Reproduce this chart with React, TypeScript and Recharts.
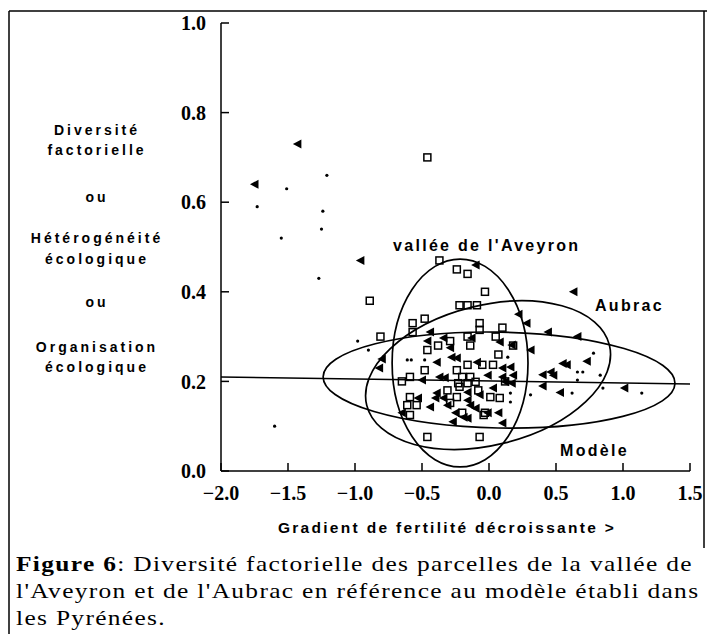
import React from 'react';
import {
  ScatterChart, Scatter, XAxis, YAxis,
  ReferenceArea, ReferenceLine,
} from 'recharts';

// vallée de l'Aveyron (open squares)
const aveyronPts: [number, number][] = [
  [-0.46, 0.70], [-0.89, 0.38], [-0.37, 0.47], [-0.24, 0.45], [-0.16, 0.44],
  [-0.03, 0.40], [-0.22, 0.37], [-0.16, 0.37], [-0.09, 0.37], [-0.57, 0.33],
  [-0.48, 0.34], [-0.07, 0.33], [-0.07, 0.315], [0.10, 0.32], [-0.81, 0.30],
  [-0.57, 0.31], [-0.29, 0.29], [-0.38, 0.28], [-0.16, 0.30], [-0.14, 0.28],
  [0.05, 0.30], [0.18, 0.28], [0.07, 0.26], [-0.46, 0.27], [-0.48, 0.225],
  [-0.59, 0.21], [-0.65, 0.20], [-0.24, 0.225], [-0.16, 0.237], [-0.05, 0.237],
  [0.03, 0.237], [-0.20, 0.21], [-0.14, 0.21], [-0.23, 0.196], [-0.16, 0.196],
  [-0.08, 0.18], [0.01, 0.165], [-0.59, 0.165], [-0.61, 0.147], [-0.54, 0.147],
  [-0.59, 0.125], [-0.29, 0.152], [-0.20, 0.13], [-0.03, 0.13], [-0.46, 0.076],
  [-0.07, 0.076], [-0.22, 0.188], [-0.24, 0.165], [-0.10, 0.199], [-0.04, 0.125],
  [-0.31, 0.18], [0.12, 0.20], [0.08, 0.163],
];

// Aubrac (filled triangles)
const aubracPts: [number, number][] = [
  [-1.43, 0.73], [-1.75, 0.64], [-0.96, 0.47], [-0.10, 0.46], [0.63, 0.40],
  [0.22, 0.35], [0.28, 0.33], [0.44, 0.31], [0.66, 0.30], [0.31, 0.27],
  [-0.44, 0.31], [-0.46, 0.29], [-0.29, 0.275], [0.08, 0.288], [-0.13, 0.297],
  [0.73, 0.245], [0.55, 0.24], [0.40, 0.215], [0.40, 0.19], [0.53, 0.175],
  [1.01, 0.185], [-0.80, 0.25], [-0.82, 0.23], [-0.37, 0.21], [0.10, 0.21],
  [-0.39, 0.174], [-0.44, 0.143], [-0.65, 0.13], [-0.31, 0.147], [0.10, 0.107],
  [-0.01, 0.13], [-0.27, 0.11], [-0.50, 0.203], [-0.33, 0.208], [-0.34, 0.163],
  [-0.16, 0.176], [-0.14, 0.147], [-0.16, 0.118], [-0.24, 0.252], [0.16, 0.232],
  [0.18, 0.214], [0.12, 0.199], [0.46, 0.221], [0.58, 0.237], [0.48, 0.214],
  [0.07, 0.13], [-0.09, 0.243], [-0.01, 0.214], [0.10, 0.23], [0.17, 0.196],
  [0.17, 0.281], [-0.16, 0.158], [-0.19, 0.12], [-0.28, 0.254], [-0.34, 0.297],
  [-0.07, 0.17], [0.03, 0.185], [-0.10, 0.14], [-0.25, 0.13], [-0.40, 0.163],
  [-0.53, 0.163], [-0.39, 0.243],
];

// Pyrénées model plots (small dots)
const pyreneesPts: [number, number][] = [
  [-1.51, 0.63], [-1.21, 0.66], [-1.73, 0.59], [-1.24, 0.58], [-1.25, 0.54],
  [-1.55, 0.52], [-1.27, 0.43], [-0.98, 0.29], [-0.90, 0.27], [-0.79, 0.255],
  [-1.60, 0.10], [-0.61, 0.248], [-0.58, 0.248], [-0.48, 0.248], [0.78, 0.263],
  [0.66, 0.221], [0.70, 0.221], [0.66, 0.203], [0.83, 0.214], [0.85, 0.185],
  [1.14, 0.174], [0.62, 0.174], [0.31, 0.17], [0.16, 0.174], [0.16, 0.154],
  [0.14, 0.254],
];

// confidence ellipses: Modèle, vallée de l'Aveyron, Aubrac
const ellipseCX = [0.075, -0.216, -0.007];
const ellipseCY = [0.203, 0.241, 0.214];
const ellipseRX = [1.313, 0.507, 0.933];
const ellipseRY = [0.107, 0.232, 0.156];
const ellipseTilt = [1.1, 0, -14];

// horizontal regression line of the model
const modelLine = [
  { x: -2.0, y: 0.21 },
  { x: 1.5, y: 0.194 },
];

const xTicks = [-2.0, -1.5, -1.0, -0.5, 0.0, 0.5, 1.0, 1.5];
const yTicks = [0.0, 0.2, 0.4, 0.6, 0.8, 1.0];

const toObj = (pts: [number, number][]) => pts.map(([x, y]) => ({ x, y }));

const tickFont = {
  fontFamily: '"Liberation Serif", serif',
  fontWeight: 700,
  fontSize: 20,
  fill: '#000',
};

const fmtX = (v: number) => (v < 0 ? '\u2212' : '') + Math.abs(v).toFixed(1);
const fmtY = (v: number) => v.toFixed(1);

const Square = (p: any) => (
  <rect x={p.cx - 3.5} y={p.cy - 3.5} width={7} height={7}
    fill="none" stroke="#000" strokeWidth={1.5} />
);

const Triangle = (p: any) => (
  <polygon
    points={`${p.cx - 4.5},${p.cy} ${p.cx + 4},${p.cy - 4.5} ${p.cx + 4},${p.cy + 4.5}`}
    fill="#000" />
);

const Dot = (p: any) => <circle cx={p.cx} cy={p.cy} r={1.6} fill="#000" />;

const ellipseShape = (tilt: number) => (p: any) => {
  const cx = p.x + p.width / 2;
  const cy = p.y + p.height / 2;
  return (
    <ellipse cx={cx} cy={cy} rx={Math.abs(p.width) / 2} ry={Math.abs(p.height) / 2}
      fill="none" stroke="#000" strokeWidth={1.7}
      transform={`rotate(${tilt} ${cx} ${cy})`} />
  );
};

const sideLabel = {
  fontFamily: '"Liberation Sans", Arial, sans-serif',
  fontWeight: 700,
  fontSize: 14,
  letterSpacing: 3,
  fill: '#000',
};

const plotLabel = {
  fontFamily: '"Liberation Sans", Arial, sans-serif',
  fontWeight: 700,
  fontSize: 16,
  letterSpacing: 2.3,
  fill: '#000',
};

export default function App() {
  return (
    <div style={{ position: 'absolute', left: 0, top: 0, width: 707, height: 634, overflow: 'hidden', background: '#fff' }}>
      <ScatterChart width={707} height={634} margin={{ top: 23, right: 17, bottom: 133, left: 161 }}>
        <XAxis xAxisId="b" type="number" dataKey="x" domain={[-2, 1.5]} ticks={xTicks}
          allowDataOverflow tickFormatter={fmtX} tick={tickFont} height={30}
          tickSize={-8} tickMargin={23} stroke="#000" strokeWidth={1.5} />
        <XAxis xAxisId="t" type="number" orientation="top" domain={[-2, 1.5]} ticks={xTicks}
          allowDataOverflow tick={false} height={0} tickSize={-8} stroke="#000" strokeWidth={1.5} />
        <YAxis yAxisId="l" type="number" dataKey="y" domain={[0, 1]} ticks={yTicks}
          allowDataOverflow tickFormatter={fmtY} tick={tickFont} width={60}
          tickSize={-8} tickMargin={23} stroke="#000" strokeWidth={1.5} />
        <YAxis yAxisId="r" type="number" orientation="right" domain={[0, 1]} ticks={yTicks}
          allowDataOverflow tick={false} width={0} tickSize={-8} stroke="#000" strokeWidth={1.5} />

        {ellipseCX.map((cx, i) => (
          <ReferenceArea key={i} xAxisId="b" yAxisId="l" ifOverflow="visible"
            x1={cx - ellipseRX[i]} x2={cx + ellipseRX[i]}
            y1={ellipseCY[i] - ellipseRY[i]} y2={ellipseCY[i] + ellipseRY[i]}
            shape={ellipseShape(ellipseTilt[i])} />
        ))}
        <ReferenceLine xAxisId="b" yAxisId="l" segment={modelLine}
          stroke="#000" strokeWidth={1.5} ifOverflow="visible" />

        <Scatter xAxisId="b" yAxisId="l" data={toObj(aveyronPts)} shape={Square} isAnimationActive={false} />
        <Scatter xAxisId="b" yAxisId="l" data={toObj(aubracPts)} shape={Triangle} isAnimationActive={false} />
        <Scatter xAxisId="b" yAxisId="l" data={toObj(pyreneesPts)} shape={Dot} isAnimationActive={false} />
      </ScatterChart>

      <svg width={707} height={634} style={{ position: 'absolute', left: 0, top: 0, pointerEvents: 'none' }}>
        <line x1={9} y1={11} x2={707} y2={11} stroke="#000" strokeWidth={1.5} />
        <line x1={9} y1={11} x2={9} y2={634} stroke="#000" strokeWidth={1.5} />
        <line x1={704} y1={11} x2={704} y2={548} stroke="#000" strokeWidth={1.5} />

        <g textAnchor="middle" style={sideLabel}>
          <text x={97} y={135}>Diversité</text>
          <text x={97} y={155}>factorielle</text>
          <text x={97} y={202}>ou</text>
          <text x={97} y={243}>Hétérogénéité</text>
          <text x={97} y={264}>écologique</text>
          <text x={97} y={307}>ou</text>
          <text x={97} y={352}>Organisation</text>
          <text x={97} y={372}>écologique</text>
        </g>

        <text x={393} y={251} style={plotLabel}>vallée de l'Aveyron</text>
        <text x={595} y={311} style={plotLabel}>Aubrac</text>
        <text x={560} y={456} style={plotLabel}>Modèle</text>

        <text x={447} y={533} textAnchor="middle"
          style={{ ...sideLabel, fontSize: 15.5, letterSpacing: 2.3 }}>
          Gradient de fertilité décroissante &gt;
        </text>
      </svg>

      <div style={{
        position: 'absolute', left: 16, top: 551, whiteSpace: 'nowrap',
        fontFamily: '"Liberation Serif", serif', fontSize: 21, letterSpacing: 1.1,
        lineHeight: '27px', color: '#000',
        transform: 'scaleX(1.21)', transformOrigin: '0 0',
      }}>
        <b>Figure 6</b>: Diversité factorielle des parcelles de la vallée de<br />
        l'Aveyron et de l'Aubrac en référence au modèle établi dans<br />
        les Pyrénées.
      </div>
    </div>
  );
}
